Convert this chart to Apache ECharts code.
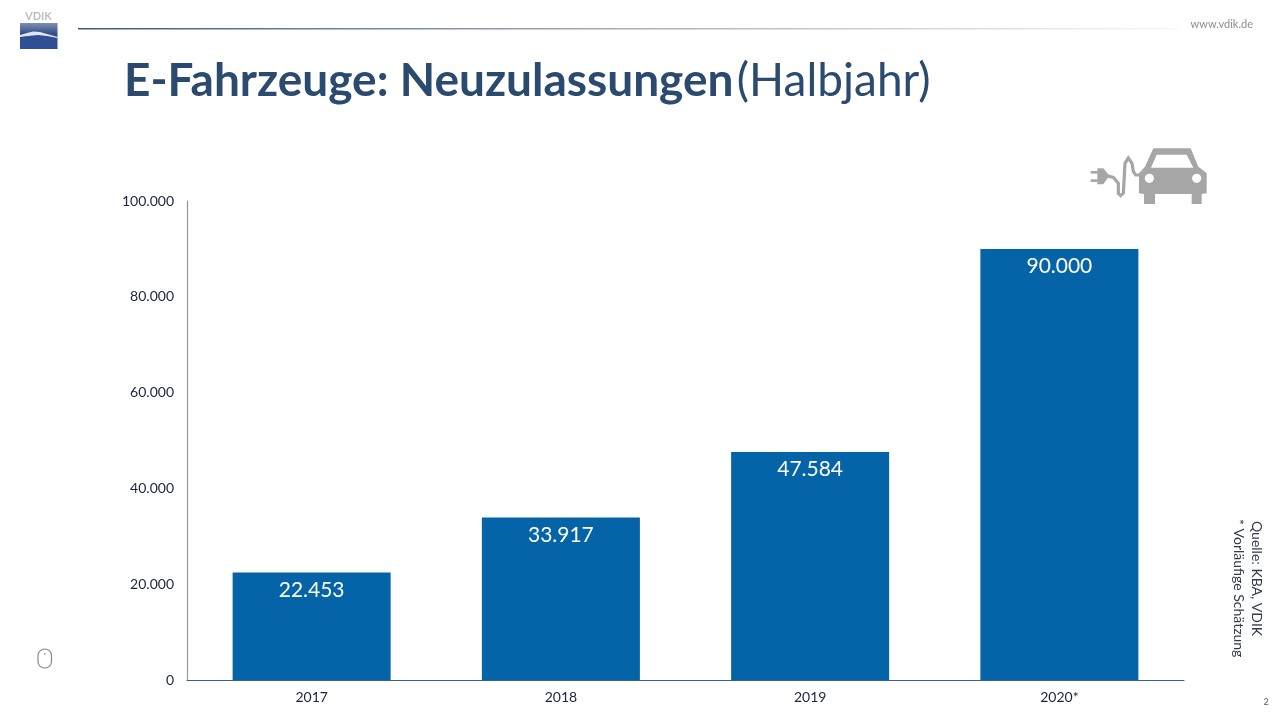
<!DOCTYPE html>
<html>
<head>
<meta charset="utf-8">
<title>E-Fahrzeuge: Neuzulassungen</title>
<script src="https://cdn.jsdelivr.net/npm/echarts@6/dist/echarts.min.js"></script>
<style>
html,body{margin:0;padding:0;background:#fff;}
#main{width:1280px;height:720px;}
</style>
</head>
<body>
<div id="main"></div>
<script>
var years = ['2017','2018','2019','2020*'];
var neuzulassungen = [22453,33917,47584,90000];
var yTicks = [0,20000,40000,60000,80000,100000];

var FONT = 'Lato, "Open Sans", sans-serif';

function dotted(v){
    return String(v).replace(/\B(?=(\d{3})+$)/g,'.');
}

function icon(pts){
    return pts.map(function(p){ return [1070+p[0]/3,p[1]/3]; });
}

var grey = '#a6a6a6';
var carIcon = [
    {type:'polygon',shape:{points:icon([[250,445],[362,445],[385,500],[405,515],[410,520],[410,580],[395,582],[395,612],[365,612],[365,582],[255,582],[255,612],[222,612],[222,582],[207,580],[207,520],[225,500]])},style:{fill:grey}},
    {type:'polygon',shape:{points:icon([[260,464],[350,464],[370,503],[243,503]])},style:{fill:'#fff'}},
    {type:'circle',shape:{cx:1070+238/3,cy:535/3,r:4.6},style:{fill:'#fff'}},
    {type:'circle',shape:{cx:1070+380/3,cy:535/3,r:4.6},style:{fill:'#fff'}},
    {type:'polyline',shape:{points:icon([[110,527],[130,532],[145,550],[145,580],[152,587],[160,580],[165,490],[175,474],[186,490],[190,515],[197,525],[212,525]])},style:{stroke:grey,lineWidth:3.2,fill:'none'}},
    {type:'polygon',shape:{points:icon([[82,505],[100,505],[118,527],[100,553],[82,553]])},style:{fill:grey}},
    {type:'rect',shape:{x:1070+62/3,y:513/3,width:7,height:2.6},style:{fill:grey}},
    {type:'rect',shape:{x:1070+62/3,y:538/3,width:7,height:2.6},style:{fill:grey}}
];

var logo = [
    {type:'text',style:{x:38.5,y:16,text:'VDIK',fill:'#bdbdbd',font:'bold 11px '+FONT,align:'center',verticalAlign:'middle'}},
    {type:'rect',shape:{x:20,y:23,width:37.5,height:26},style:{fill:{type:'linear',x:0,y:0,x2:0,y2:1,colorStops:[{offset:0,color:'#7f8fb0'},{offset:0.4,color:'#33508f'},{offset:1,color:'#2c4f99'}]}}},
    {type:'polygon',shape:{points:[[20,35],[27,33],[33,31.5],[40,32],[47,34],[57.5,37],[57.5,38],[47,36],[38,35],[28,36],[20,37]]},style:{fill:'#dfe6f0'}}
];

var mouseIcon = [
    {type:'rect',shape:{x:38,y:649,width:13.5,height:19,r:6.5},style:{fill:'#fff',stroke:'#8a8a8a',lineWidth:1.2}},
    {type:'rect',shape:{x:44.3,y:653,width:1,height:2},style:{fill:'#8a8a8a'}}
];

var headerLine = {type:'rect',shape:{x:78,y:28,width:1100,height:1.4},style:{fill:{type:'linear',x:0,y:0,x2:1,y2:0,colorStops:[{offset:0,color:'#3f5a78'},{offset:0.5,color:'#a8b0b8'},{offset:1,color:'#f8f8f8'}]}}};

var texts = [
    {type:'text',style:{x:1253,y:24.5,text:'www.vdik.de',fill:'#8c8c8c',font:'11px '+FONT,align:'right',verticalAlign:'middle',letterSpacing:1}},
    {type:'text',style:{x:1266,y:702,text:'2',fill:'#808080',font:'bold 9px '+FONT,align:'center',verticalAlign:'middle'}},
    {type:'text',x:1257,y:521,rotation:-Math.PI/2,style:{x:0,y:0,text:'Quelle: KBA, VDIK',fill:'#333a4a',font:'14px '+FONT,align:'left',verticalAlign:'middle'}},
    {type:'text',x:1239,y:519,rotation:-Math.PI/2,style:{x:0,y:0,text:'* Vorläufige Schätzung',fill:'#333a4a',font:'14px '+FONT,align:'left',verticalAlign:'middle'}},
    {type:'text',style:{x:124,y:81,text:'{b|E-Fahrzeuge: Neuzulassungen} {n|(Halbjahr)}',verticalAlign:'middle',rich:{
        b:{font:'bold 46px '+FONT,fill:'#2b4a6f'},
        n:{font:'46px '+FONT,fill:'#2b4a6f'}
    }}}
];

var myChart = echarts.init(document.getElementById('main'));
var option = {
    animation:false,
    backgroundColor:'#fff',
    textStyle:{fontFamily:FONT},
    grid:{left:187,right:96,top:201,bottom:40,containLabel:false},
    xAxis:{
        type:'category',
        data:years,
        axisTick:{show:false},
        axisLine:{lineStyle:{color:'#3d5f8a',width:1.2}},
        axisLabel:{color:'#1c2340',fontSize:14,margin:10,fontFamily:FONT}
    },
    yAxis:{
        type:'value',
        min:yTicks[0],
        max:yTicks[yTicks.length-1],
        interval:yTicks[1]-yTicks[0],
        splitLine:{show:false},
        axisTick:{show:false},
        axisLine:{show:true,lineStyle:{color:'#8d97a5',width:1.2}},
        axisLabel:{color:'#1c2340',fontSize:14,margin:13,fontFamily:FONT,formatter:dotted}
    },
    series:[{
        type:'bar',
        data:neuzulassungen,
        barWidth:158,
        itemStyle:{color:'#0563a8'},
        label:{
            show:true,
            position:'insideTop',
            distance:7,
            color:'#fff',
            fontSize:21,
            fontFamily:FONT,
            formatter:function(p){ return dotted(p.value); }
        }
    }],
    graphic:{elements:[headerLine].concat(logo,texts,carIcon,mouseIcon)}
};
myChart.setOption(option);
</script>
</body>
</html>
